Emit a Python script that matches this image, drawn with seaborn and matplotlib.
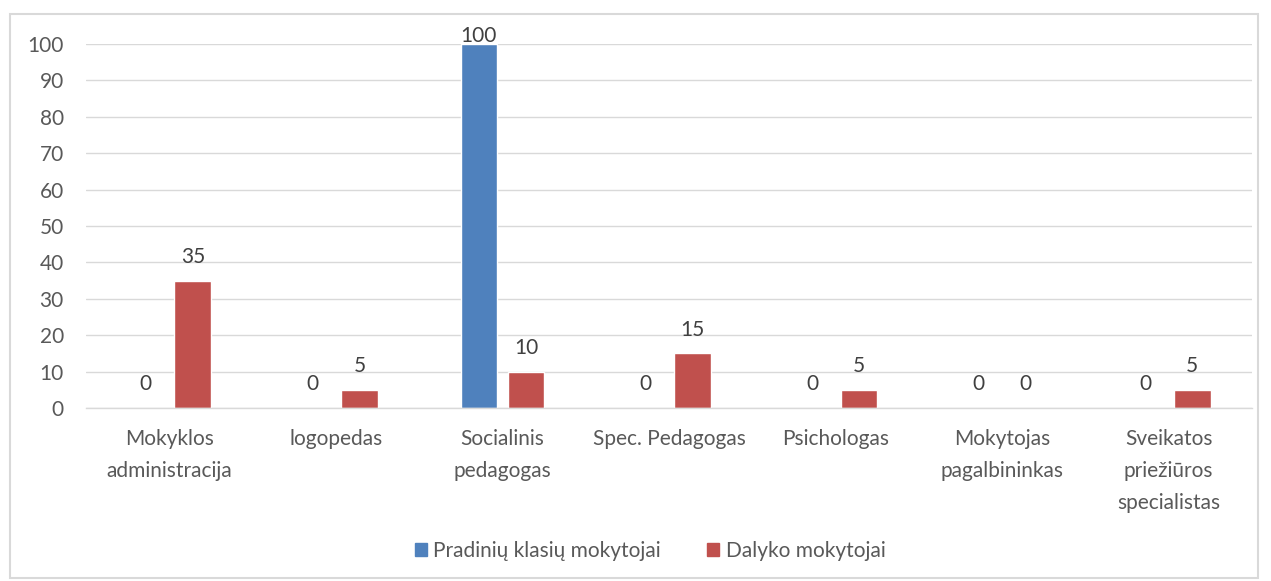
import matplotlib
matplotlib.use("Agg")
import matplotlib.pyplot as plt
import seaborn as sns
import pandas as pd
from matplotlib.patches import Rectangle

categories = ["Mokyklos\nadministracija", "logopedas", "Socialinis\npedagogas",
              "Spec. Pedagogas", "Psichologas", "Mokytojas\npagalbininkas",
              "Sveikatos\npriežiūros\nspecialistas"]
series_names = ["Pradinių klasių mokytojai", "Dalyko mokytojai"]
pradiniu = [0, 0, 100, 0, 0, 0, 0]
dalyko = [35, 5, 10, 15, 5, 0, 5]
yticks = [0, 10, 20, 30, 40, 50, 60, 70, 80, 90, 100]

colors = ["#4F81BD", "#C0504D"]
txt = "#595959"
FS = 15

sns.set_theme(style="white")
plt.rcParams['font.family'] = ['Lato', 'DejaVu Sans']

df = pd.DataFrame({
    "cat": categories * 2,
    "series": [series_names[0]] * 7 + [series_names[1]] * 7,
    "value": pradiniu + dalyko,
})

fig = plt.figure(figsize=(12.71, 5.81), dpi=100)
ax = fig.add_axes([86 / 1271, 1 - 408 / 581, (1252 - 86) / 1271, (408 - 44) / 581])

sns.barplot(data=df, x="cat", y="value", hue="series", palette=colors,
            width=0.565, gap=0.22, ax=ax, legend=False, saturation=1)

ax.set_ylim(0, 100)
ax.set_xlim(-0.5, 6.5)
ax.set_yticks(yticks)
ax.set_yticklabels([str(v) for v in yticks], fontsize=FS, color=txt)
ax.tick_params(axis="y", length=0, pad=16)
ax.tick_params(axis="x", length=0, pad=15)
ax.set_xticks(range(len(categories)))
ax.set_xticklabels(categories, fontsize=FS, color=txt, linespacing=1.75)
ax.set_xlabel("")
ax.set_ylabel("")
ax.yaxis.grid(True, color="#D9D9D9", linewidth=1)
ax.set_axisbelow(True)
for s in ["top", "right", "left"]:
    ax.spines[s].set_visible(False)
ax.spines["bottom"].set_color("#D9D9D9")
ax.spines["bottom"].set_linewidth(1)

for cont in ax.containers:
    anns = ax.bar_label(cont, fmt="%d", fontsize=FS, color="#404040", padding=10)
    for a in anns:
        if a.get_text() == "100":
            a.xyann = (0, -1.5)

# figure border
fig.patches.append(Rectangle((10 / 1271, 3 / 581), 1248 / 1271, 564 / 581,
                             transform=fig.transFigure, fill=False,
                             edgecolor="#D9D9D9", linewidth=1.5))

handles = [Rectangle((0, 0), 1, 1, color=c) for c in colors]
fig.legend(handles, series_names, loc="center", bbox_to_anchor=(650 / 1271, 1 - 551 / 581),
           ncol=2, frameon=False, fontsize=FS, labelcolor=txt, handlelength=0.6,
           handleheight=0.6, handletextpad=0.3, columnspacing=2.2)

fig.savefig("out.png", dpi=100)
